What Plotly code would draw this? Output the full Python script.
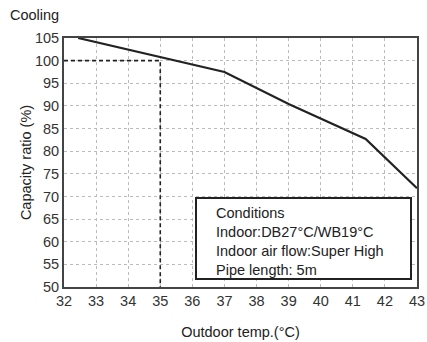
import plotly.graph_objects as go

temps = [32.44, 35.0, 37.0, 39.0, 41.4, 43.0]
capacity = [105.0, 100.7, 97.5, 90.4, 82.7, 71.8]
ref_temp = 35
ref_cap = 100
x_ticks = list(range(32, 44))
y_ticks = list(range(50, 106, 5))
conditions = ["Conditions", "Indoor:DB27°C/WB19°C", "Indoor air flow:Super High", "Pipe length: 5m"]

FONT = "Liberation Sans, Arial, sans-serif"
FS = 14.5
fig = go.Figure()
fig.add_trace(go.Scatter(x=[x_ticks[0], ref_temp, ref_temp], y=[ref_cap, ref_cap, y_ticks[0]],
                         mode="lines", line=dict(color="#222", width=1.6, dash="4px,3px"),
                         hoverinfo="skip", showlegend=False))
fig.add_trace(go.Scatter(x=temps, y=capacity, mode="lines",
                         line=dict(color="#222", width=2.2), showlegend=False))

axis_common = dict(showgrid=True, gridcolor="#bbbbbb", griddash="dot", gridwidth=1,
                   showline=True, linecolor="#444", linewidth=2, mirror=True,
                   ticks="", tickfont=dict(family=FONT, size=FS, color="#333"),
                   zeroline=False, automargin=False, ticklabeloverflow="allow")
fig.update_xaxes(range=[32, 43], tickvals=x_ticks, **axis_common,
                 title=dict(text="Outdoor temp.(°C)", font=dict(family=FONT, size=FS, color="#222"), standoff=18))
fig.update_yaxes(range=[50, 105], tickvals=y_ticks, **axis_common,
                 title=dict(text="Capacity ratio (%)", font=dict(family=FONT, size=FS, color="#222"), standoff=0))

fig.add_shape(type="rect", xref="paper", yref="paper",
              x0=(196-64)/353, x1=(411-64)/353, y0=(287-279)/249, y1=(287-198)/249,
              line=dict(color="#222", width=2), fillcolor="white", layer="above")
fig.add_annotation(xref="paper", yref="paper", x=(214-64)/353, y=(287-203)/249,
                   xanchor="left", yanchor="top", align="left", showarrow=False,
                   text="<br>".join(conditions),
                   font=dict(family=FONT, size=FS, color="#222"))
fig.add_annotation(xref="paper", yref="paper", x=-(64-8)/353, y=(287-15)/249,
                   xanchor="left", yanchor="middle", showarrow=False, text="Cooling",
                   font=dict(family=FONT, size=FS, color="#222"))

fig.update_layout(width=427, height=342, margin=dict(l=64, r=10, t=38, b=55),
                  plot_bgcolor="white", paper_bgcolor="white", showlegend=False)
fig.write_html("out.html", config={"displayModeBar": False},
               post_script="document.body.style.margin='0';document.body.style.overflow='hidden';")
